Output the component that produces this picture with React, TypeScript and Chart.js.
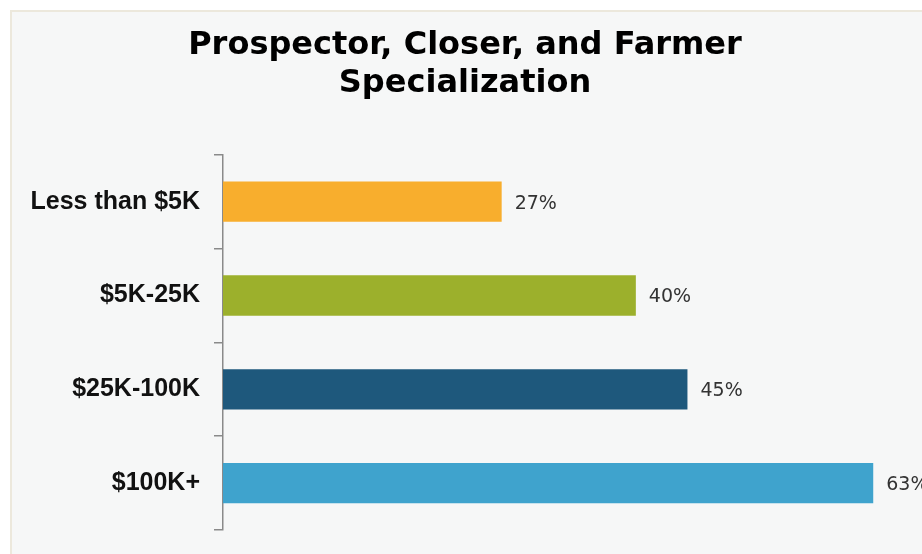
import React, { useEffect, useRef } from "react";
import { Chart, registerables } from "chart.js";

Chart.register(...registerables);

const titleLines = ["Prospector, Closer, and Farmer", "Specialization"];
const categories = ["Less than $5K", "$5K-25K", "$25K-100K", "$100K+"];
const values = [27, 40, 45, 63];
const barColors = ["#F8AE2D", "#9CB02C", "#1E587C", "#3FA3CD"];
const valueSuffix = "%";

const valueLabelPlugin = {
  id: "valueLabels",
  afterDatasetsDraw(chart: any) {
    const ctx = chart.ctx;
    const meta = chart.getDatasetMeta(0);
    ctx.save();
    ctx.font = "19px 'DejaVu Sans'";
    ctx.fillStyle = "#333333";
    ctx.textAlign = "left";
    ctx.textBaseline = "middle";
    meta.data.forEach((bar: any, i: number) => {
      const v = chart.data.datasets[0].data[i];
      ctx.fillText(v + valueSuffix, bar.x + 13, bar.y + 2);
    });
    ctx.restore();
  },
};

export default function App() {
  const ref = useRef<HTMLCanvasElement | null>(null);

  useEffect(() => {
    if (!ref.current) return;
    const chart = new Chart(ref.current, {
      type: "bar",
      data: {
        labels: categories,
        datasets: [
          {
            data: values,
            backgroundColor: barColors,
            borderWidth: 0,
            barPercentage: 0.43,
            categoryPercentage: 1,
          },
        ],
      },
      options: {
        indexAxis: "y",
        responsive: false,
        animation: false,
        devicePixelRatio: 1,
        layout: { padding: { left: 0, right: 0, top: 0, bottom: 24 } },
        plugins: {
          legend: { display: false },
          tooltip: { enabled: false },
          title: {
            display: true,
            text: titleLines,
            color: "#000000",
            font: { family: "'DejaVu Sans'", size: 32, weight: "bold", lineHeight: 1.2 },
            padding: { top: 26, bottom: 52 },
          },
        },
        scales: {
          x: {
            display: false,
            min: 0,
            max: 68.5,
          },
          y: {
            afterFit: (s: any) => {
              s.width = 223;
              s.paddingTop = 0;
              s.paddingBottom = 0;
            },
            grid: {
              display: true,
              drawOnChartArea: false,
              drawTicks: true,
              tickLength: 9,
              color: "#8a8a8a",
              lineWidth: 1.5,
              offset: true,
            },
            border: { display: true, color: "#8a8a8a", width: 1.5 },
            ticks: {
              color: "#111111",
              padding: 14,
              font: { family: "'Liberation Sans'", size: 25, weight: "bold" },
            },
          },
        },
      },
      plugins: [valueLabelPlugin],
    });
    return () => chart.destroy();
  }, []);

  return (
    <div
      style={{
        position: "fixed",
        left: 0,
        top: 0,
        width: 922,
        height: 554,
        overflow: "hidden",
        background: "#ffffff",
      }}
    >
      <div
        style={{
          position: "absolute",
          left: 10,
          top: 10,
          width: 940,
          height: 560,
          background: "#f6f7f7",
          borderLeft: "2px solid #ece8dc",
          borderTop: "2px solid #ece8dc",
        }}
      />
      <canvas
        ref={ref}
        width={930}
        height={554}
        style={{ position: "absolute", left: 0, top: 0, width: 930, height: 554 }}
      />
    </div>
  );
}
